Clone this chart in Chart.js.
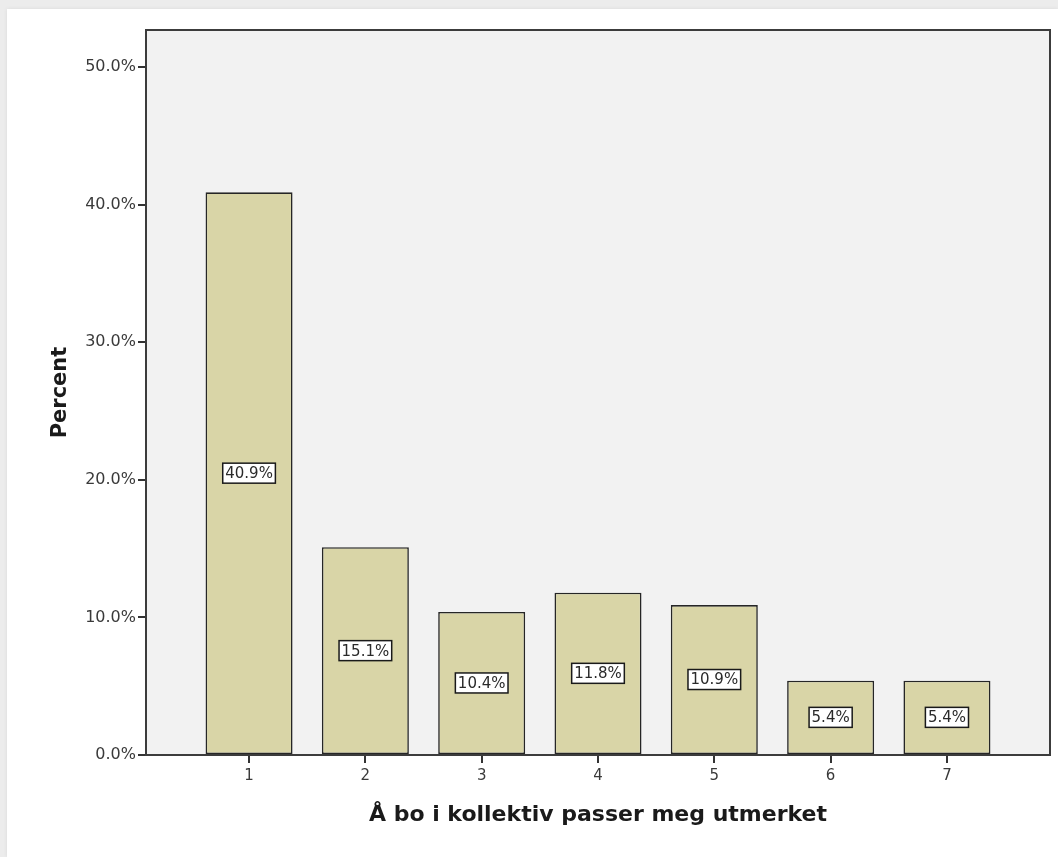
<!DOCTYPE html>
<html>
<head>
<meta charset="utf-8">
<script src="https://cdn.jsdelivr.net/npm/chart.js@4.4.1/dist/chart.umd.min.js"></script>
<style>
  html, body { margin: 0; padding: 0; }
  body { width: 1058px; height: 857px; background: #ececec; position: relative; overflow: hidden; }
  .card { position: absolute; left: 7px; top: 9px; right: 0; bottom: 0; background: #ffffff;
          box-shadow: 0 0 4px rgba(0,0,0,0.08); }
  #wrap { position: absolute; left: 0; top: 0; width: 1058px; height: 857px; }
</style>
</head>
<body>
<div class="card"></div>
<div id="wrap"><canvas id="chart" width="1058" height="857"></canvas></div>
<script>
// Response categories (1 = lowest agreement ... 7 = highest)
const categories = [1, 2, 3, 4, 5, 6, 7];
// Share of respondents per category, in percent
const percents = [40.9, 15.1, 10.4, 11.8, 10.9, 5.4, 5.4];
// Percent axis ticks
const yTicks = [0, 10, 20, 30, 40, 50];
const yMax = 52.7;

const xTitle = 'Å bo i kollektiv passer meg utmerket';
const yTitle = 'Percent';

const FONT = '"DejaVu Sans", Verdana, sans-serif';

// Grey plotting panel behind the bars, framed after drawing
const panel = {
  id: 'panel',
  beforeDatasetsDraw(chart) {
    const { ctx, chartArea: a } = chart;
    ctx.save();
    ctx.fillStyle = '#f2f2f2';
    ctx.fillRect(a.left, a.top, a.right - a.left, a.bottom - a.top);
    ctx.restore();
  },
  afterDatasetsDraw(chart) {
    const { ctx, chartArea: a } = chart;
    ctx.save();
    ctx.strokeStyle = '#3c3c3c';
    ctx.lineWidth = 2;
    ctx.strokeRect(a.left, a.top, a.right - a.left, a.bottom - a.top);
    ctx.restore();
  }
};

// Boxed percentage label in the middle of each bar
const boxLabels = {
  id: 'boxLabels',
  afterDatasetsDraw(chart) {
    const { ctx } = chart;
    const meta = chart.getDatasetMeta(0);
    ctx.save();
    ctx.font = '15px ' + FONT;
    ctx.textAlign = 'center';
    ctx.textBaseline = 'middle';
    meta.data.forEach((bar, i) => {
      const txt = percents[i].toFixed(1) + '%';
      const cy = (bar.y + bar.base) / 2;
      const w = ctx.measureText(txt).width + 5;
      const h = 20;
      ctx.fillStyle = '#ffffff';
      ctx.fillRect(bar.x - w / 2, cy - h / 2, w, h);
      ctx.strokeStyle = '#1a1a1a';
      ctx.lineWidth = 1.5;
      ctx.strokeRect(bar.x - w / 2, cy - h / 2, w, h);
      ctx.fillStyle = '#2a2a2a';
      ctx.fillText(txt, bar.x, cy + 1);
    });
    ctx.restore();
  }
};

new Chart(document.getElementById('chart'), {
  type: 'bar',
  data: {
    datasets: [{
      data: categories.map((c, i) => ({ x: c, y: percents[i] })),
      backgroundColor: '#d9d5a7',
      borderColor: '#262626',
      borderWidth: 1.6,
      borderSkipped: false,
      categoryPercentage: 1,
      barPercentage: 0.748
    }]
  },
  options: {
    responsive: false,
    animation: false,
    devicePixelRatio: 1,
    layout: { padding: { left: 0, top: 30, right: 8, bottom: 0 } },
    plugins: { legend: { display: false }, tooltip: { enabled: false } },
    scales: {
      x: {
        type: 'linear',
        min: 0.114,
        max: 7.886,
        offset: false,
        afterBuildTicks: s => { s.ticks = categories.map(v => ({ value: v })); },
        afterFit: s => { s.height = 102; },
        ticks: {
          includeBounds: false,
          autoSkip: false,
          maxRotation: 0,
          padding: 4,
          color: '#3a3a3a',
          font: { family: FONT, size: 15 },
          callback: v => String(v)
        },
        grid: { offset: false, drawOnChartArea: false, drawTicks: true, tickLength: 8, color: '#333333', lineWidth: 2 },
        border: { display: false },
        title: {
          display: true,
          text: xTitle,
          color: '#1a1a1a',
          font: { family: FONT, size: 22, weight: 'bold' },
          padding: { top: 29, bottom: 29 }
        }
      },
      y: {
        min: 0,
        max: yMax,
        afterBuildTicks: s => { s.ticks = yTicks.map(v => ({ value: v })); },
        afterFit: s => { s.width = 146; },
        ticks: {
          includeBounds: false,
          padding: 2,
          color: '#3a3a3a',
          font: { family: FONT, size: 16 },
          callback: v => Number(v).toFixed(1) + '%'
        },
        grid: { drawOnChartArea: false, drawTicks: true, tickLength: 8, color: '#333333', lineWidth: 2 },
        border: { display: false },
        title: {
          display: true,
          text: yTitle,
          color: '#1a1a1a',
          font: { family: FONT, size: 21, weight: 'bold' },
          padding: { top: 48, bottom: 48 }
        }
      }
    }
  },
  plugins: [panel, boxLabels]
});
</script>
</body>
</html>
